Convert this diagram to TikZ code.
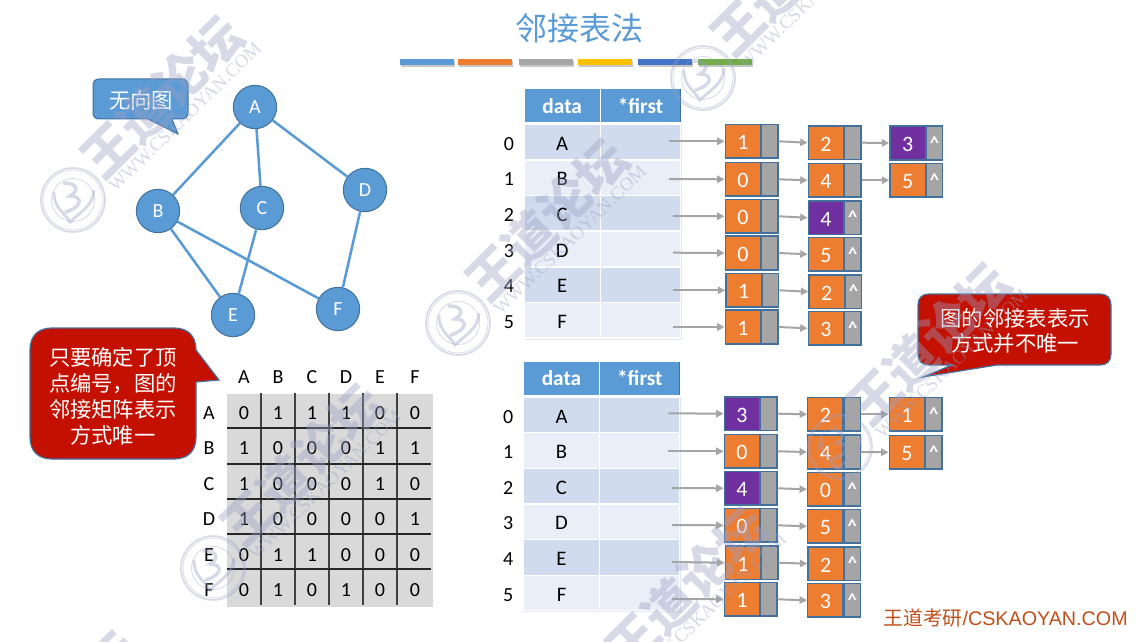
\documentclass[tikz,border=0pt]{standalone}
\usepackage{fontspec}
\setmainfont{Carlito}
\newfontfamily\cjk{Noto Sans CJK SC}
\newfontfamily\arialf{Liberation Sans}
\newfontfamily\serifw{Liberation Serif}
\usetikzlibrary{arrows.meta}
\definecolor{cblue}{HTML}{5B9BD5}
\definecolor{cedge}{HTML}{41719C}
\definecolor{corange}{HTML}{ED7D31}
\definecolor{cgrey}{HTML}{A5A5A5}
\definecolor{cyel}{HTML}{FFC000}
\definecolor{cdblue}{HTML}{4472C4}
\definecolor{cgreen}{HTML}{70AD47}
\definecolor{cpurple}{HTML}{7030A0}
\definecolor{cred}{HTML}{C31000}
\definecolor{rowa}{HTML}{D0DCEE}
\definecolor{rowb}{HTML}{E9EEF7}
\definecolor{matg}{HTML}{D9D9D9}
\definecolor{wmk}{HTML}{9BA0C5}
\definecolor{brand}{HTML}{C0501A}
\tikzset{
  vert/.style={circle,draw=cedge,line width=.75pt,fill=cblue,text=white,minimum size=32.5pt,inner sep=0pt,font=\fontsize{15}{17}\selectfont},
  gedge/.style={draw=cblue,line width=1.9pt},
  hdr/.style={fill=cblue,text=white,inner sep=0pt,minimum height=25pt,font=\fontsize{16}{18}\selectfont\bfseries},
  rowcell/.style={inner sep=0pt,minimum height=25.7pt,text=black,text height=12pt,text depth=0pt,font=\fontsize{15.5}{17}\selectfont},
  idx/.style={inner sep=0pt,text=black,text height=12pt,text depth=0pt,font=\fontsize{15}{17}\selectfont},
  datac/.style={draw=cedge,line width=1.1pt,inner sep=0pt,minimum width=26.6pt,minimum height=25.2pt,text=white,text height=12.5pt,text depth=0pt,font=\fontsize{16.5}{18}\selectfont},
  ptrc/.style={draw=cedge,line width=1.1pt,fill=cgrey,inner sep=0pt,minimum width=12.2pt,minimum height=25.2pt,text=white,text height=12pt,text depth=3pt,font=\fontsize{14}{16}\selectfont\bfseries},
  arr/.style={draw=cgrey,line width=1.5pt,-{Triangle[length=5.5pt,width=5.5pt]}},
  mtext/.style={inner sep=0pt,text=black,text height=11pt,text depth=0pt,font=\fontsize{15}{17}\selectfont},
  calltext/.style={inner sep=0pt,align=center,text=white,font=\cjk\fontsize{16}{19.5}\selectfont},
  bar/.style={inner sep=0pt,minimum width=40.5pt,minimum height=4.5pt},
  barshadow/.style={fill=black,opacity=.22},
  wmline/.style={draw=wmk,opacity=.4},
  wmtext/.style={inner sep=0pt,text=wmk,text opacity=.4}
}
\newcommand{\listnode}[6]{% name, x, ytop, value, fill, pointer text
  \node[datac,fill=#5] (#1) at ({#2+17.7},{#3+17}) {#4};
  \node[ptrc] (#1p) at ({#2+44.5},{#3+17}) {#6};
}
\newcommand{\tablerows}[3]{% prefix, dx, dy
  \node[hdr,minimum width=56.2pt] (#1hd) at ({562.2+#2},{105.6+#3}) {data};
  \node[hdr,minimum width=59.2pt] (#1hf) at ({640.5+#2},{105.6+#3}) {*first};
  \foreach \r/\yc/\col/\lab in {0/142.3/rowa/A,1/177.8/rowb/B,2/213.3/rowa/C,3/249/rowb/D,4/284.8/rowa/E,5/320.3/rowb/F}{
    \node[idx] (#1i\r) at ({509+#2},{\yc+#3}) {\r};
    \node[rowcell,fill=\col,minimum width=56.2pt] (#1d\r) at ({562.2+#2},{\yc+#3}) {\lab};
    \node[rowcell,fill=\col,minimum width=59.2pt] (#1f\r) at ({640.5+#2},{\yc+#3}) {};
  }
  \draw[rowa!70,line width=.7pt] ({681+#2},{124+#3}) -- ({681+#2},{339+#3}) -- ({524+#2},{339+#3});
  \draw[cedge,line width=.7pt] ({680.5+#2},{89+#3}) -- ({680.5+#2},{122+#3});
}
\newcommand{\watermark}[3]{% id, seal x, seal y
  \begin{scope}[shift={(#2,#3)}]
    \draw[wmline,line width=1.2pt] (0,0) circle[radius=32];
    \draw[wmline,line width=.6pt] (0,0) circle[radius=30];
    \draw[wmline,line width=.6pt] (0,0) circle[radius=21.5];
    \draw[wmline,line width=2.2pt,line cap=round] (-19,-7) .. controls (-19,8) and (-9,12) .. (-3,22) .. controls (6,13) and (20,6) .. (21,-9);
    \draw[wmline,line width=2.6pt,line cap=round] (-9,-17) .. controls (5,-17) and (6,-9) .. (-3,-4) .. controls (9,-4) and (11,6) .. (-7,12);
    \node[wmtext,rotate=44.7,font=\cjk\bfseries\fontsize{38}{40}\selectfont] (wmb#1) at (89,-103) {王道论坛};
    \node[wmtext,rotate=44.2,font=\serifw\fontsize{14}{16}\selectfont] (wms#1) at (112,-83) {WWW.CSKAOYAN.COM};
  \end{scope}
}
\begin{document}
\begin{tikzpicture}[x=0.75pt,y=-0.75pt]
\useasboundingbox (0,0) rectangle (1136,642);
\clip (0,0) rectangle (1136,642);
\fill[white] (0,0) rectangle (1136,642);

% title and colour bars
\node[inner sep=0pt,text=cblue,font=\cjk\fontsize{24}{28}\selectfont] (title) at (579.5,28) {邻接表法};
\foreach \n/\x/\c in {b1/427/cblue,b2/485/corange,b3/546/cgrey,b4/605/cyel,b5/665/cdblue,b6/725/cgreen}{
  \fill[barshadow] ({\x-27+1},61) rectangle ({\x+27+1},67.5);
  \node[bar,fill=\c] (\n) at (\x,62) {};
}

% graph
\node[vert] (A) at (255,107) {A};
\node[vert] (B) at (158,211) {B};
\node[vert] (C) at (262,208) {C};
\node[vert] (D) at (365,190) {D};
\node[vert] (E) at (233,315) {E};
\node[vert] (F) at (338,309) {F};
\draw[gedge] (A) -- (B);
\draw[gedge] (A) -- (C);
\draw[gedge] (A) -- (D);
\draw[gedge] (B) -- (E);
\draw[gedge] (B) -- (F);
\draw[gedge] (C) -- (E);
\draw[gedge] (D) -- (F);

% blue callout
\draw[cedge,fill=cblue,line width=.75pt]
  (99,79) -- (182,79) .. controls (185.5,79) and (188,81.5) .. (188,85) -- (188,113)
  .. controls (188,116.5) and (185.5,119) .. (182,119) -- (172,119) -- (178,134) -- (148,119) -- (99,119)
  .. controls (95.5,119) and (93,116.5) .. (93,113) -- (93,85) .. controls (93,81.5) and (95.5,79) .. (99,79) -- cycle;
\node[calltext] (undir) at (141,100) {无向图};

% left red callout
\draw[cedge,fill=cred,line width=.9pt]
  (52,328) -- (174,328) .. controls (188,328) and (196,336) .. (196,350) -- (219,380) -- (196,382) -- (196,437)
  .. controls (196,451) and (188,459) .. (174,459) -- (52,459) .. controls (38,459) and (30,451) .. (30,437)
  -- (30,350) .. controls (30,336) and (38,328) .. (52,328) -- cycle;
\node[calltext,font=\cjk\fontsize{16}{19.5}\selectfont,text width=140pt] (leftnote) at (113,396) {只要确定了顶\\点编号，图的\\邻接矩阵表示\\方式唯一};

% right red callout
\draw[cedge,fill=cred,line width=.9pt]
  (929,294) -- (1100,294) .. controls (1107,294) and (1111,298) .. (1111,305) -- (1111,354)
  .. controls (1111,361) and (1107,365) .. (1100,365) -- (997,365) -- (923,377) -- (952,365) -- (929,365)
  .. controls (922,365) and (918,361) .. (918,354) -- (918,305) .. controls (918,298) and (922,294) .. (929,294) -- cycle;
\node[calltext,font=\cjk\fontsize{16}{19}\selectfont,text width=150pt] (rightnote) at (1015,331) {图的邻接表表示\\方式并不唯一};

% adjacency matrix
\node[inner sep=0pt,fill=matg,minimum width=154.5pt,minimum height=159.8pt] (mat) at (330,500.5) {};
\foreach \x in {261,295,329,363,397}{
  \draw[black!75,line width=1.4pt] (\x,393) -- (\x,605);
}
\foreach \y in {428,464,499,534,569}{
  \draw[black!85,line width=.9pt] (227,\y) -- (431,\y);
}
\foreach \c/\x/\l in {1/244/A,2/278/B,3/312/C,4/346/D,5/380/E,6/415/F}{
  \node[mtext] (mh\c) at (\x,376) {\l};
}
\foreach \r/\y/\l/\aa/\bb/\cc/\dd/\ee/\ff in {
  1/412/A/0/1/1/1/0/0,
  2/447.5/B/1/0/0/0/1/1,
  3/483/C/1/0/0/0/1/0,
  4/518/D/1/0/0/0/0/1,
  5/554/E/0/1/1/0/0/0,
  6/589/F/0/1/0/1/0/0}{
  \node[mtext] (mr\r) at (209,\y) {\l};
  \node[mtext] (m\r a) at (244,\y) {\aa};
  \node[mtext] (m\r b) at (278,\y) {\bb};
  \node[mtext] (m\r c) at (312,\y) {\cc};
  \node[mtext] (m\r d) at (346,\y) {\dd};
  \node[mtext] (m\r e) at (380,\y) {\ee};
  \node[mtext] (m\r f) at (415,\y) {\ff};
}

% tables
\tablerows{t}{0}{0}
\tablerows{w}{-0.7}{272.7}

% linked lists, upper
\def\yy{\textasciicircum}\def\nn{}
\foreach \n/\x/\y/\v/\f/\p in {
  ua0/725.3/124.3/1/corange/\nn, ub0/808.3/125.7/2/corange/\nn, uc0/890/126/3/cpurple/\yy,
  ua1/725.3/162.3/0/corange/\nn, ub1/808.3/163.3/4/corange/\nn, uc1/890/163.3/5/corange/\yy,
  ua2/725.3/199.3/0/corange/\nn, ub2/808.3/200.7/4/cpurple/\yy,
  ua3/725.3/236/0/corange/\nn, ub3/808.3/237.3/5/corange/\yy,
  ua4/726/273.3/1/corange/\nn, ub4/809/274.7/2/corange/\yy,
  ua5/725.3/310/1/corange/\nn, ub5/808.3/311.3/3/corange/\yy,
  va0/724.3/396.7/3/cpurple/\nn, vb0/807.7/397.3/2/corange/\nn, vc0/889.3/397.3/1/corange/\yy,
  va1/724.3/434.3/0/corange/\nn, vb1/807.7/435/4/corange/\nn, vc1/889.3/435.3/5/corange/\yy,
  va2/724.3/471.3/4/cpurple/\nn, vb2/807.7/472.3/0/corange/\yy,
  va3/724.3/508.3/0/corange/\nn, vb3/807.7/509.3/5/corange/\yy,
  va4/725.3/545.7/1/corange/\nn, vb4/808/546.7/2/corange/\yy,
  va5/724.3/582.3/1/corange/\nn, vb5/807.7/583.3/3/corange/\yy}{
  \listnode{\n}{\x}{\y}{\v}{\f}{\p}
}
% free arrow starts
\foreach \n/\x/\y in {s0/669/141.3,s1/669/179,s2/673/216,s3/673/252.7,s4/673/290.3,s5/673/327,
  z0/668.3/413.3,z1/668.3/451.3,z2/672/488,z3/672/525,z4/672/562,z5/672/599}{
  \coordinate (\n) at (\x,\y);
}
\foreach \i in {0,...,5}{
  \draw[arr] (s\i) -- (ua\i.west);
  \draw[arr] (ua\i p.east) -- (ub\i.west);
  \draw[arr] (z\i) -- (va\i.west);
  \draw[arr] (va\i p.east) -- (vb\i.west);
}
\foreach \i in {0,1}{
  \draw[arr] (ub\i p.east) -- (uc\i.west);
  \draw[arr] (vb\i p.east) -- (vc\i.west);
}

% brand
\node[inner sep=0pt,anchor=east,text=brand,font=\arialf\fontsize{14.8}{17}\selectfont] (brandt) at (1128,618) {{\cjk 王道考研}/CSKAOYAN.COM};

% watermarks
\watermark{a}{73}{200}
\watermark{b}{458}{323}
\watermark{c}{703}{78}
\watermark{d}{840}{447}
\watermark{e}{213}{568}
\watermark{f}{598}{691}
\watermark{g}{-31}{815}
\end{tikzpicture}
\end{document}
